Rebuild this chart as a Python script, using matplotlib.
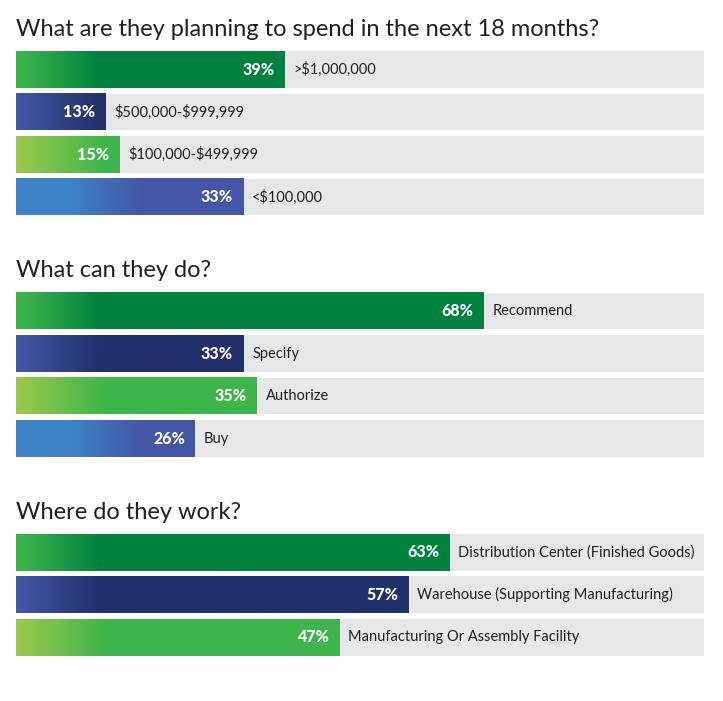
import numpy as np
import matplotlib
matplotlib.use('Agg')
from matplotlib import pyplot as plt
from matplotlib.colors import to_rgb

plt.rcParams['font.family'] = ['Lato', 'DejaVu Sans']

# data
titles = ['What are they planning to spend in the next 18 months?',
          'What can they do?',
          'Where do they work?']
spend_labels = ['>$1,000,000', '$500,000-$999,999', '$100,000-$499,999', '<$100,000']
spend_values = [39, 13, 15, 33]
role_labels = ['Recommend', 'Specify', 'Authorize', 'Buy']
role_values = [68, 33, 35, 26]
work_labels = ['Distribution Center (Finished Goods)',
               'Warehouse (Supporting Manufacturing)',
               'Manufacturing Or Assembly Facility']
work_values = [63, 57, 47]

# (start colour, end colour, gradient start %, gradient end %)
styles = [('#3BB44A', '#00823F', 1, 12),
          ('#4458A6', '#22306B', 0, 12),
          ('#9CC94C', '#3DB54A', 0, 13),
          ('#3D83C5', '#4457A6', 8, 18)]
TRACK = '#E6E7E8'
TEXT = '#231F20'

W, H = 723, 701
# (top px, bottom px, title baseline px) for each block
layout = [(48.3, 218.3, 35.5), (289.8, 459.8, 277), (531.0, 658.5, 519)]


def grad_bar(ax, y, value, style, h=0.865):
    c0, c1, a, b = style
    x = np.linspace(0, value, 300)
    t = np.clip((x - a) / (b - a), 0, 1)[:, None]
    rgb = (1 - t) * np.array(to_rgb(c0)) + t * np.array(to_rgb(c1))
    ax.imshow(rgb[None, :, :], extent=(0, value, y + h / 2, y - h / 2),
              aspect='auto', interpolation='bilinear', zorder=2)


def block(ax, labels, values):
    n = len(values)
    ys = np.arange(n)
    ax.barh(ys, [100] * n, height=0.865, color=TRACK, zorder=1)
    for i, (lab, v) in enumerate(zip(labels, values)):
        grad_bar(ax, i, v, styles[i % len(styles)])
        ax.annotate(f'{v}%', xy=(v, i), xytext=(-7.2, 0), textcoords='offset points',
                    ha='right', va='center', color='white', fontsize=11.5,
                    fontweight='black', zorder=3)
        ax.annotate(lab, xy=(v, i), xytext=(6.5, 0), textcoords='offset points',
                    ha='left', va='center', color=TEXT, fontsize=10.5, zorder=3,
                    parse_math=False)
    ax.set_xlim(0, 100)
    ax.set_ylim(n - 0.5, -0.5)
    ax.axis('off')


fig = plt.figure(figsize=(W / 100, H / 100), dpi=100)
data = [(spend_labels, spend_values), (role_labels, role_values), (work_labels, work_values)]
for (top, bot, base), title, (labs, vals) in zip(layout, titles, data):
    ax = fig.add_axes([16 / W, 1 - bot / H, 688 / W, (bot - top) / H])
    block(ax, labs, vals)
    fig.text(16 / W, 1 - base / H, title, fontsize=17, color=TEXT,
             ha='left', va='baseline')

fig.savefig('out.png', dpi=100, facecolor='white')
